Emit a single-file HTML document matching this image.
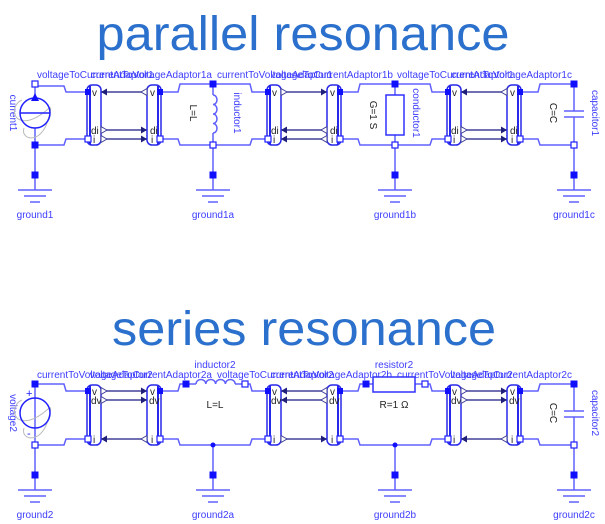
<!DOCTYPE html>
<html><head><meta charset="utf-8"><style>
html,body{margin:0;padding:0;background:#fff;}
svg{display:block;}
text{font-family:"Liberation Sans",sans-serif;}
</style></head><body>
<svg width="605" height="524" viewBox="0 0 605 524" xmlns="http://www.w3.org/2000/svg">
<defs>
<g id="gnd">
<line x1="0" y1="0" x2="0" y2="15" stroke="#6060ff" stroke-width="1.5"/>
<rect x="-3.5" y="-3.5" width="7" height="7" fill="#1010ff"/>
<line x1="-17" y1="15" x2="17" y2="15" stroke="#6060ff" stroke-width="1.5"/>
<line x1="-11" y1="21" x2="11" y2="21" stroke="#6060ff" stroke-width="1.5"/>
<line x1="-5" y1="27" x2="5" y2="27" stroke="#6060ff" stroke-width="1.5"/>
</g>
<g id="boxT">
<rect x="0" y="0" width="14" height="60" rx="5" fill="#fff" stroke="#2828e8" stroke-width="1.5"/>
</g>
</defs>

<text x="303" y="50" font-size="48" fill="#2a70cc" text-anchor="middle" textLength="413" lengthAdjust="spacingAndGlyphs">parallel resonance</text>
<text x="304" y="345" font-size="48" fill="#2a70cc" text-anchor="middle" textLength="384" lengthAdjust="spacingAndGlyphs">series resonance</text>

<g fill="#3c3cff" font-size="10">
<text x="37" y="78">voltageToCurrentAdaptor1</text>
<text x="212" y="78" text-anchor="end">currentToVoltageAdaptor1a</text>
<text x="217" y="78">currentToVoltageAdaptor1</text>
<text x="393" y="78" text-anchor="end">voltageToCurrentAdaptor1b</text>
<text x="397" y="78">voltageToCurrentAdaptor1</text>
<text x="572" y="78" text-anchor="end">currentToVoltageAdaptor1c</text>
<text x="37" y="378">currentToVoltageAdaptor2</text>
<text x="212" y="378" text-anchor="end">voltageToCurrentAdaptor2a</text>
<text x="217" y="378">voltageToCurrentAdaptor2</text>
<text x="392" y="378" text-anchor="end">currentToVoltageAdaptor2b</text>
<text x="397" y="378">currentToVoltageAdaptor2</text>
<text x="572" y="378" text-anchor="end">voltageToCurrentAdaptor2c</text>
<text x="215" y="368" text-anchor="middle">inductor2</text>
<text x="394" y="368" text-anchor="middle">resistor2</text>
<text x="35" y="218" text-anchor="middle">ground1</text>
<text x="213" y="218" text-anchor="middle">ground1a</text>
<text x="395" y="218" text-anchor="middle">ground1b</text>
<text x="574" y="218" text-anchor="middle">ground1c</text>
<text x="35" y="518" text-anchor="middle">ground2</text>
<text x="213" y="518" text-anchor="middle">ground2a</text>
<text x="395" y="518" text-anchor="middle">ground2b</text>
<text x="574" y="518" text-anchor="middle">ground2c</text>
<text transform="translate(10,113) rotate(90)" text-anchor="middle">current1</text>
<text transform="translate(10,413) rotate(90)" text-anchor="middle">voltage2</text>
<text transform="translate(234,113) rotate(90)" text-anchor="middle">inductor1</text>
<text transform="translate(413,113) rotate(90)" text-anchor="middle">conductor1</text>
<text transform="translate(592,113) rotate(90)" text-anchor="middle">capacitor1</text>
<text transform="translate(592,413) rotate(90)" text-anchor="middle">capacitor2</text>
</g>
<g fill="#222" font-size="10">
<text transform="translate(190,113) rotate(90)" text-anchor="middle">L=L</text>
<text transform="translate(370,115) rotate(90)" text-anchor="middle">G=1 S</text>
<text transform="translate(550,113) rotate(90)" text-anchor="middle">C=C</text>
<text transform="translate(550,413) rotate(90)" text-anchor="middle">C=C</text>
<text x="215" y="408" text-anchor="middle">L=L</text>
<text x="394" y="408" text-anchor="middle">R=1 Ω</text>
</g>

<g stroke="#6060ff" stroke-width="1.5" fill="none">
<polyline points="35,86 64,86 66,92 88,92"/>
<polyline points="35,145 64,145 66,139 88,139"/>
<polyline points="160,92 178,92 180,84 250,84 252,92 268,92"/>
<polyline points="160,139 178,139 180,145 250,145 252,139 268,139"/>
<polyline points="340,92 358,92 360,84 430,84 432,92 448,92"/>
<polyline points="340,139 358,139 360,145 430,145 432,139 448,139"/>
<polyline points="520,92 538,92 540,84 574,84 574,111"/>
<polyline points="520,139 538,139 540,145 574,145 574,117"/>
<line x1="35" y1="145" x2="35" y2="175"/>
<line x1="213" y1="84" x2="213" y2="95"/>
<line x1="213" y1="133" x2="213" y2="175"/>
<line x1="395" y1="84" x2="395" y2="95"/>
<line x1="395" y1="135" x2="395" y2="175"/>
<line x1="574" y1="145" x2="574" y2="175"/>
<line x1="35" y1="86" x2="35" y2="98"/>
<line x1="35" y1="128" x2="35" y2="145"/>
<path d="M213,95 a4,4.75 0 0 1 0,9.5 a4,4.75 0 0 1 0,9.5 a4,4.75 0 0 1 0,9.5 a4,4.75 0 0 1 0,9.5"/>
<polyline points="35,384 64,384 66,391 88,391"/>
<polyline points="35,445 64,445 66,439 88,439"/>
<polyline points="160,391 178,391 180,384 196,384"/>
<polyline points="235,384 250,384 252,391 268,391"/>
<polyline points="160,439 178,439 180,445 250,445 252,439 268,439"/>
<polyline points="340,391 358,391 360,384 373,384"/>
<polyline points="415,384 430,384 432,391 448,391"/>
<polyline points="340,439 358,439 360,445 430,445 432,439 448,439"/>
<polyline points="520,391 538,391 540,384 574,384 574,411"/>
<polyline points="520,439 538,439 540,445 574,445 574,417"/>
<line x1="35" y1="384" x2="35" y2="475"/>
<line x1="213" y1="445" x2="213" y2="475"/>
<line x1="395" y1="445" x2="395" y2="475"/>
<line x1="574" y1="445" x2="574" y2="475"/>
<path d="M196,384 a4.9,4.5 0 0 1 9.8,0 a4.9,4.5 0 0 1 9.8,0 a4.9,4.5 0 0 1 9.8,0 a4.9,4.5 0 0 1 9.8,0"/>
<line x1="564" y1="111" x2="584" y2="111"/>
<line x1="564" y1="117" x2="584" y2="117"/>
<line x1="564" y1="411" x2="584" y2="411"/>
<line x1="564" y1="417" x2="584" y2="417"/>
</g>
<rect x="386" y="95" width="18" height="40" fill="#fff" stroke="#3030ff" stroke-width="1.5"/>
<rect x="373" y="377" width="42" height="15" fill="#fff" stroke="#3030ff" stroke-width="1.5"/>
<circle cx="213" cy="445" r="2.5" fill="#1010ff"/>
<circle cx="395" cy="445" r="2.5" fill="#1010ff"/>

<path d="M22,100 C10,105 12,125 30,120 S55,95 48,120 S20,140 24,128" fill="none" stroke="#bbb" stroke-width="1"/>
<circle cx="35" cy="113" r="15" fill="none" stroke="#2020ff" stroke-width="1.5"/>
<line x1="20" y1="113" x2="50" y2="113" stroke="#2020ff" stroke-width="1.5"/>
<polygon points="35,93 31,101 39,101" fill="#1010ff"/>
<rect x="32" y="81" width="6" height="6" fill="#fff" stroke="#2020ff" stroke-width="1.2"/>
<rect x="31.5" y="141.5" width="7" height="7" fill="#1010ff"/>
<path d="M22,400 C10,405 12,425 30,420 S55,395 48,420 S20,440 24,428" fill="none" stroke="#bbb" stroke-width="1"/>
<circle cx="35" cy="413" r="15" fill="none" stroke="#2020ff" stroke-width="1.5"/>
<text x="26" y="397" font-size="11" fill="#2020ff">+</text>
<text x="27" y="437" font-size="11" fill="#2020ff">-</text>
<rect x="31.5" y="380.5" width="7" height="7" fill="#1010ff"/>
<rect x="32" y="442" width="6" height="6" fill="#fff" stroke="#2020ff" stroke-width="1.2"/>

<g fill="#1010ff">
<rect x="209.5" y="80.5" width="7" height="7"/>
<rect x="391.5" y="80.5" width="7" height="7"/>
<rect x="570.5" y="80.5" width="7" height="7"/>
<rect x="182.5" y="380.5" width="7" height="7"/>
<rect x="362.5" y="380.5" width="7" height="7"/>
<rect x="570.5" y="380.5" width="7" height="7"/>
</g>
<g fill="#fff" stroke="#2020ff" stroke-width="1.2">
<rect x="210" y="142" width="6" height="6"/>
<rect x="392" y="142" width="6" height="6"/>
<rect x="571" y="142" width="6" height="6"/>
<rect x="242" y="381" width="6" height="6"/>
<rect x="422" y="381" width="6" height="6"/>
<rect x="571" y="442" width="6" height="6"/>
</g>

<use href="#gnd" transform="translate(35,175)"/>
<use href="#gnd" transform="translate(213,175)"/>
<use href="#gnd" transform="translate(395,175)"/>
<use href="#gnd" transform="translate(574,175)"/>
<use href="#gnd" transform="translate(35,475)"/>
<use href="#gnd" transform="translate(213,475)"/>
<use href="#gnd" transform="translate(395,475)"/>
<use href="#gnd" transform="translate(574,475)"/>

<g id="pairTA" transform="translate(0,0)">
<g stroke="#40409a" stroke-width="1.5"><line x1="101" y1="92" x2="147" y2="92"/><line x1="101" y1="130" x2="147" y2="130"/><line x1="101" y1="139" x2="147" y2="139"/></g>
<use href="#boxT" transform="translate(87,85)"/>
<use href="#boxT" transform="translate(147,85)"/>
<line x1="90" y1="86" x2="90" y2="144" stroke="#2828e8" stroke-width="2"/>
<line x1="158" y1="86" x2="158" y2="144" stroke="#2828e8" stroke-width="2"/>
<rect x="85" y="89" width="6" height="6" fill="#1010ff"/>
<rect x="85" y="136" width="6" height="6" fill="#fff" stroke="#2020ff" stroke-width="1.2"/>
<rect x="157" y="89" width="6" height="6" fill="#1010ff"/>
<rect x="157" y="136" width="6" height="6" fill="#fff" stroke="#2020ff" stroke-width="1.2"/>
<g font-size="10" fill="#222"><text x="92" y="96">v</text><text x="91" y="134">di</text><text x="93" y="143">i</text><text x="150" y="96">v</text><text x="150" y="134">di</text><text x="151" y="143">i</text></g>
<polygon points="101,92 107,88.5 107,95.5" fill="#20207a"/>
<polygon points="141,92 147,88.5 147,95.5" fill="#fff" stroke="#40409a"/>
<polygon points="107,130 101,126.5 101,133.5" fill="#fff" stroke="#40409a"/>
<polygon points="107,139 101,135.5 101,142.5" fill="#fff" stroke="#40409a"/>
<polygon points="147,130 141,126.5 141,133.5" fill="#20207a"/>
<polygon points="147,139 141,135.5 141,142.5" fill="#20207a"/>
</g>
<use href="#pairTA" transform="translate(360,0)"/>
<g transform="translate(180,0)">
<g stroke="#40409a" stroke-width="1.5"><line x1="101" y1="92" x2="147" y2="92"/><line x1="101" y1="130" x2="147" y2="130"/><line x1="101" y1="139" x2="147" y2="139"/></g>
<use href="#boxT" transform="translate(87,85)"/>
<use href="#boxT" transform="translate(147,85)"/>
<line x1="90" y1="86" x2="90" y2="144" stroke="#2828e8" stroke-width="2"/>
<line x1="158" y1="86" x2="158" y2="144" stroke="#2828e8" stroke-width="2"/>
<rect x="85" y="89" width="6" height="6" fill="#1010ff"/>
<rect x="85" y="136" width="6" height="6" fill="#fff" stroke="#2020ff" stroke-width="1.2"/>
<rect x="157" y="89" width="6" height="6" fill="#1010ff"/>
<rect x="157" y="136" width="6" height="6" fill="#fff" stroke="#2020ff" stroke-width="1.2"/>
<g font-size="10" fill="#222"><text x="92" y="96">v</text><text x="91" y="134">di</text><text x="93" y="143">i</text><text x="150" y="96">v</text><text x="150" y="134">di</text><text x="151" y="143">i</text></g>
<polygon points="107,92 101,88.5 101,95.5" fill="#fff" stroke="#40409a"/>
<polygon points="147,92 141,88.5 141,95.5" fill="#20207a"/>
<polygon points="101,130 107,126.5 107,133.5" fill="#20207a"/>
<polygon points="101,139 107,135.5 107,142.5" fill="#20207a"/>
<polygon points="141,130 147,126.5 147,133.5" fill="#fff" stroke="#40409a"/>
<polygon points="141,139 147,135.5 147,142.5" fill="#fff" stroke="#40409a"/>
</g>

<g id="pairBA" transform="translate(0,299)">
<g stroke="#40409a" stroke-width="1.5"><line x1="101" y1="92" x2="147" y2="92"/><line x1="101" y1="101" x2="147" y2="101"/><line x1="101" y1="140" x2="147" y2="140"/></g>
<use href="#boxT" transform="translate(87,86)"/>
<use href="#boxT" transform="translate(147,86)"/>
<line x1="90" y1="87" x2="90" y2="145" stroke="#2828e8" stroke-width="2"/>
<line x1="158" y1="87" x2="158" y2="145" stroke="#2828e8" stroke-width="2"/>
<rect x="85" y="89" width="6" height="6" fill="#1010ff"/>
<rect x="85" y="137" width="6" height="6" fill="#fff" stroke="#2020ff" stroke-width="1.2"/>
<rect x="157" y="89" width="6" height="6" fill="#1010ff"/>
<rect x="157" y="137" width="6" height="6" fill="#fff" stroke="#2020ff" stroke-width="1.2"/>
<g font-size="10" fill="#222"><text x="92" y="96">v</text><text x="91" y="105">dv</text><text x="93" y="144">i</text><text x="150" y="96">v</text><text x="149" y="105">dv</text><text x="151" y="144">i</text></g>
<polygon points="107,92 101,88.5 101,95.5" fill="#fff" stroke="#40409a"/>
<polygon points="107,101 101,97.5 101,104.5" fill="#fff" stroke="#40409a"/>
<polygon points="147,92 141,88.5 141,95.5" fill="#20207a"/>
<polygon points="147,101 141,97.5 141,104.5" fill="#20207a"/>
<polygon points="101,140 107,136.5 107,143.5" fill="#20207a"/>
<polygon points="141,140 147,136.5 147,143.5" fill="#fff" stroke="#40409a"/>
</g>
<use href="#pairBA" transform="translate(360,0)"/>
<g transform="translate(180,299)">
<g stroke="#40409a" stroke-width="1.5"><line x1="101" y1="92" x2="147" y2="92"/><line x1="101" y1="101" x2="147" y2="101"/><line x1="101" y1="140" x2="147" y2="140"/></g>
<use href="#boxT" transform="translate(87,86)"/>
<use href="#boxT" transform="translate(147,86)"/>
<line x1="90" y1="87" x2="90" y2="145" stroke="#2828e8" stroke-width="2"/>
<line x1="158" y1="87" x2="158" y2="145" stroke="#2828e8" stroke-width="2"/>
<rect x="85" y="89" width="6" height="6" fill="#1010ff"/>
<rect x="85" y="137" width="6" height="6" fill="#fff" stroke="#2020ff" stroke-width="1.2"/>
<rect x="157" y="89" width="6" height="6" fill="#1010ff"/>
<rect x="157" y="137" width="6" height="6" fill="#fff" stroke="#2020ff" stroke-width="1.2"/>
<g font-size="10" fill="#222"><text x="92" y="96">v</text><text x="91" y="105">dv</text><text x="93" y="144">i</text><text x="150" y="96">v</text><text x="149" y="105">dv</text><text x="151" y="144">i</text></g>
<polygon points="101,92 107,88.5 107,95.5" fill="#20207a"/>
<polygon points="101,101 107,97.5 107,104.5" fill="#20207a"/>
<polygon points="141,92 147,88.5 147,95.5" fill="#fff" stroke="#40409a"/>
<polygon points="141,101 147,97.5 147,104.5" fill="#fff" stroke="#40409a"/>
<polygon points="107,140 101,136.5 101,143.5" fill="#fff" stroke="#40409a"/>
<polygon points="147,140 141,136.5 141,143.5" fill="#20207a"/>
</g>
</svg>
</body></html>
